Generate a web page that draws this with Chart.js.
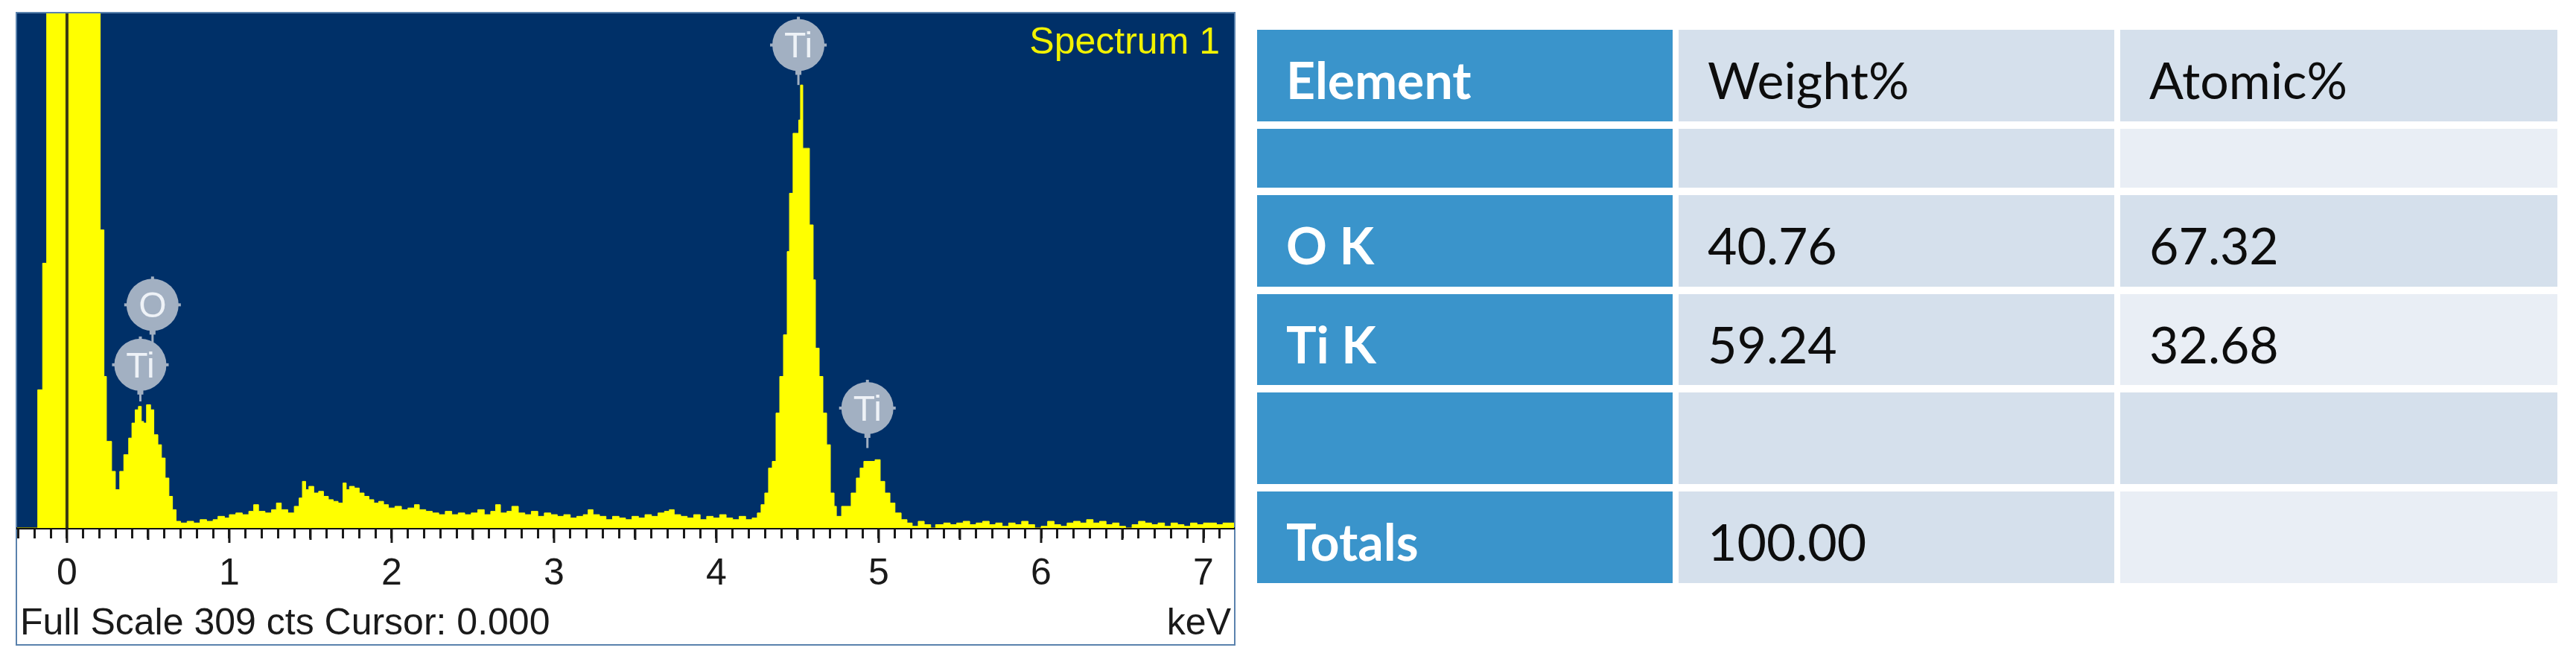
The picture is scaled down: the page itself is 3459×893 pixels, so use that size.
<!DOCTYPE html>
<html>
<head>
<meta charset="utf-8">
<script src="https://cdn.jsdelivr.net/npm/chart.js@4.4.1/dist/chart.umd.min.js"></script>
<style>
    body { margin: 0; background: #ffffff; width: 3459px; height: 893px; overflow: hidden; position: relative; }
    #spectrum { position: absolute; left: 0; top: 0; }
    #resultTable {
        position: absolute; left: 1688px; top: 40px;
        display: grid;
        grid-template-columns: 558px 585px 587px;
        grid-template-rows: 123px 79px 123px 122px 123px 123px;
        gap: 10px 8px;
        font-family: 'Lato', sans-serif;
        font-size: 68px;
    }
    #resultTable .cell { box-sizing: border-box; padding: 27px 0 0 39px; line-height: 80px; white-space: nowrap; }
    #resultTable .first { background: #3a94cb; color: #ffffff; font-weight: bold; }
    #resultTable .dark { background: #d5e0ec; color: #0d0d0d; }
    #resultTable .light { background: #e9eef5; color: #0d0d0d; }
</style>
</head>
<body>
<canvas id="spectrum" width="1680" height="893"></canvas>
<div id="resultTable"></div>

<script>
// Espectro EDS (energia em keV, contagens por canal)
const energyKeV = [
    -0.31, -0.19, -0.18, -0.15, -0.125, 0.205, 0.228, 0.243, 0.275, 0.298,
    0.325, 0.35, 0.38, 0.40, 0.42, 0.44, 0.458, 0.472, 0.49, 0.515,
    0.535, 0.56, 0.582, 0.605, 0.628, 0.65, 0.672, 0.70, 0.74, 0.78,
    0.82, 0.86, 0.90, 0.93, 0.97, 1.00, 1.04, 1.08, 1.12, 1.15,
    1.18, 1.22, 1.26, 1.29, 1.32, 1.36, 1.40, 1.43, 1.45, 1.47,
    1.49, 1.52, 1.55, 1.58, 1.61, 1.64, 1.67, 1.70, 1.72, 1.74,
    1.77, 1.80, 1.83, 1.86, 1.89, 1.92, 1.95, 1.98, 2.02, 2.06,
    2.10, 2.14, 2.17, 2.21, 2.25, 2.29, 2.33, 2.37, 2.41, 2.45,
    2.49, 2.53, 2.57, 2.61, 2.64, 2.67, 2.71, 2.74, 2.78, 2.82,
    2.86, 2.90, 2.94, 2.98, 3.02, 3.06, 3.10, 3.14, 3.18, 3.21,
    3.24, 3.28, 3.32, 3.36, 3.40, 3.44, 3.48, 3.52, 3.56, 3.60,
    3.64, 3.68, 3.71, 3.74, 3.78, 3.82, 3.86, 3.90, 3.94, 3.98,
    4.02, 4.06, 4.10, 4.14, 4.18, 4.22, 4.252, 4.275, 4.298, 4.321,
    4.344, 4.367, 4.39, 4.413, 4.436, 4.45, 4.472, 4.507, 4.518, 4.532,
    4.573, 4.596, 4.61, 4.633, 4.656, 4.679, 4.702, 4.725, 4.739, 4.771,
    4.83, 4.862, 4.885, 4.908, 4.977, 5.009, 5.037, 5.069, 5.10, 5.138,
    5.174, 5.206, 5.243, 5.28, 5.32, 5.35, 5.40, 5.44, 5.48, 5.52,
    5.56, 5.60, 5.64, 5.68, 5.72, 5.76, 5.80, 5.84, 5.88, 5.92,
    5.96, 6.00, 6.04, 6.08, 6.12, 6.16, 6.20, 6.24, 6.28, 6.32,
    6.36, 6.40, 6.44, 6.48, 6.52, 6.56, 6.60, 6.64, 6.68, 6.72,
    6.76, 6.80, 6.84, 6.88, 6.92, 6.96, 7.00, 7.04, 7.08, 7.12,
    7.16, 7.19
];
const counts = [
    0, 0, 83, 159, 1200, 179, 91, 52, 34, 23,
    34, 44, 54, 63, 71, 73, 64, 63, 74, 71,
    56, 50, 42, 30, 19, 11, 4, 3, 4, 3,
    5, 4, 5, 7, 6, 8, 9, 8, 10, 14,
    10, 9, 11, 15, 11, 9, 13, 18, 28, 23,
    25, 21, 22, 19, 17, 16, 15, 27, 23, 25,
    24, 21, 19, 17, 15, 16, 14, 12, 13, 11,
    12, 14, 11, 10, 9, 8, 10, 8, 9, 8,
    9, 11, 8, 10, 14, 9, 10, 13, 9, 8,
    10, 7, 9, 8, 7, 8, 6, 7, 8, 11,
    8, 7, 5, 7, 6, 5, 7, 6, 8, 7,
    9, 10, 11, 8, 7, 6, 8, 5, 7, 6,
    8, 6, 5, 7, 5, 6, 9, 14, 21, 36,
    40, 69, 91, 116, 166, 201, 237, 245, 266, 228,
    182, 149, 108, 91, 69, 50, 21, 13, 7, 13,
    21, 30, 36, 40, 41, 28, 21, 15, 9, 5,
    3, 1, 4, 2, 0, 2, 3, 2, 3, 4,
    2, 3, 4, 2, 3, 1, 3, 2, 4, 2,
    0, 1, 4, 2, 1, 3, 4, 3, 5, 3,
    4, 2, 3, 1, 0, 2, 4, 3, 2, 3,
    1, 3, 2, 1, 3, 2, 3, 3, 2, 3,
    3, 3
];

// Marcadores dos picos
const markerKeV = [0.452, 0.527, 4.505, 4.93];
const markerLabels = ['Ti', 'O', 'Ti', 'Ti'];
const markerCounts = [98, 134, 290, 72];
const markerStemTo = [76, 98, 266, 48];

const fullScale = 309;
const cursorKeV = 0;

// Tabela de resultados
const tableHeader = ['Element', 'Weight%', 'Atomic%'];
const elements = ['', 'O K', 'Ti K', '', 'Totals'];
const weightPct = ['', '40.76', '59.24', '', '100.00'];
const atomicPct = ['', '67.32', '32.68', '', ''];

const sansFont = '"Liberation Sans", Arial, sans-serif';

// Monta a tabela
const table = document.getElementById('resultTable');
const rows = [tableHeader].concat(elements.map((el, i) => [el, weightPct[i], atomicPct[i]]));
rows.forEach((row, r) => {
    row.forEach((text, c) => {
        const cell = document.createElement('div');
        cell.className = 'cell ' + (c === 0 ? 'first' : (c === 1 || r % 2 === 0 ? 'dark' : 'light'));
        cell.textContent = text;
        table.appendChild(cell);
    });
});

const panelPlugin = {
    id: 'panel',
    beforeDraw(chart) {
        const { ctx, chartArea } = chart;
        ctx.save();
        // moldura
        ctx.strokeStyle = '#5a82ad';
        ctx.lineWidth = 2;
        ctx.strokeRect(chartArea.left - 1, chartArea.top - 1, chartArea.right - chartArea.left + 2, 866 - chartArea.top + 1);
        // fundo azul
        ctx.fillStyle = '#003068';
        ctx.fillRect(chartArea.left, chartArea.top, chartArea.right - chartArea.left, chartArea.bottom - chartArea.top);
        ctx.restore();
    },
    afterDatasetsDraw(chart) {
        const { ctx, chartArea } = chart;
        const xs = chart.scales.x;
        const ys = chart.scales.y;
        ctx.save();
        ctx.beginPath();
        ctx.rect(chartArea.left, chartArea.top, chartArea.right - chartArea.left, chartArea.bottom - chartArea.top);
        ctx.clip();

        // cursor
        const cx = xs.getPixelForValue(cursorKeV);
        ctx.strokeStyle = 'rgba(25, 25, 20, 0.85)';
        ctx.lineWidth = 4;
        ctx.beginPath();
        ctx.moveTo(cx, chartArea.top);
        ctx.lineTo(cx, chartArea.bottom);
        ctx.stroke();

        // hastes
        ctx.strokeStyle = '#a2b0c2';
        ctx.lineWidth = 3;
        markerKeV.forEach((e, i) => {
            const x = xs.getPixelForValue(e);
            ctx.beginPath();
            ctx.moveTo(x, ys.getPixelForValue(markerCounts[i]));
            ctx.lineTo(x, ys.getPixelForValue(markerStemTo[i]));
            ctx.stroke();
        });

        // etiquetas
        markerKeV.forEach((e, i) => {
            const x = xs.getPixelForValue(e);
            const y = ys.getPixelForValue(markerCounts[i]);
            ctx.fillStyle = '#a2b0c2';
            ctx.beginPath();
            ctx.arc(x, y, 35, 0, Math.PI * 2);
            ctx.fill();
            for (let k = 0; k < 4; k++) {
                const a = k * Math.PI / 2;
                ctx.fillRect(x + Math.cos(a) * 36 - 2, y + Math.sin(a) * 36 - 2, 4, 4);
            }
            ctx.fillRect(x - 4, y + 30, 8, 10);
            ctx.fillStyle = '#eef2f7';
            ctx.font = '48px ' + sansFont;
            ctx.textAlign = 'center';
            ctx.textBaseline = 'alphabetic';
            ctx.fillText(markerLabels[i], x, y + 17);
        });

        // titulo
        ctx.fillStyle = '#f2f200';
        ctx.font = '50px ' + sansFont;
        ctx.textAlign = 'right';
        ctx.fillText('Spectrum 1', chartArea.right - 19, chartArea.top + 54);
        ctx.restore();
    },
    afterDraw(chart) {
        const { ctx, chartArea } = chart;
        const xs = chart.scales.x;
        ctx.save();
        // marcas maiores nos inteiros e meios
        ctx.strokeStyle = '#1a1a1a';
        ctx.lineWidth = 3;
        xs.ticks.forEach(t => {
            const v = t.value;
            const isInt = Math.abs(v - Math.round(v)) < 1e-6;
            const isHalf = Math.abs(v * 2 - Math.round(v * 2)) < 1e-6;
            if (isInt || isHalf) {
                const x = xs.getPixelForValue(v);
                ctx.beginPath();
                ctx.moveTo(x, chartArea.bottom);
                ctx.lineTo(x, chartArea.bottom + (isInt ? 20 : 16));
                ctx.stroke();
            }
        });
        ctx.fillStyle = '#1a1a1a';
        ctx.font = '50px ' + sansFont;
        ctx.textBaseline = 'alphabetic';
        ctx.textAlign = 'left';
        ctx.fillText('Full Scale ' + fullScale + ' cts Cursor: ' + cursorKeV.toFixed(3), chartArea.left + 4, 852);
        ctx.textAlign = 'right';
        ctx.fillText('keV', chartArea.right - 4, 852);
        ctx.restore();
    }
};

const ctx = document.getElementById('spectrum').getContext('2d');
const spectrumChart = new Chart(ctx, {
    type: 'line',
    data: {
        datasets: [{
            data: energyKeV.map((e, i) => ({ x: e, y: counts[i] })),
            stepped: true,
            fill: 'origin',
            backgroundColor: '#ffff00',
            borderColor: '#ffff00',
            borderWidth: 1,
            pointRadius: 0,
            clip: 0
        }]
    },
    options: {
        responsive: false,
        animation: false,
        layout: { padding: { top: 18, left: 23, right: 23, bottom: 74 } },
        plugins: {
            legend: { display: false },
            tooltip: { enabled: false }
        },
        scales: {
            x: {
                type: 'linear',
                min: -0.307,
                max: 7.188,
                ticks: {
                    stepSize: 0.1,
                    includeBounds: false,
                    autoSkip: false,
                    maxRotation: 0,
                    padding: 18,
                    color: '#1a1a1a',
                    font: { family: sansFont, size: 50 },
                    callback: (v) => Math.abs(v - Math.round(v)) < 1e-6 ? String(Math.abs(Math.round(v))) : ''
                },
                grid: {
                    drawOnChartArea: false,
                    tickLength: 14,
                    tickWidth: 3,
                    tickColor: '#1a1a1a'
                },
                border: { display: true, color: '#111111', width: 3 }
            },
            y: {
                display: false,
                min: 0,
                max: fullScale
            }
        }
    },
    plugins: [panelPlugin]
});
</script>
</body>
</html>
